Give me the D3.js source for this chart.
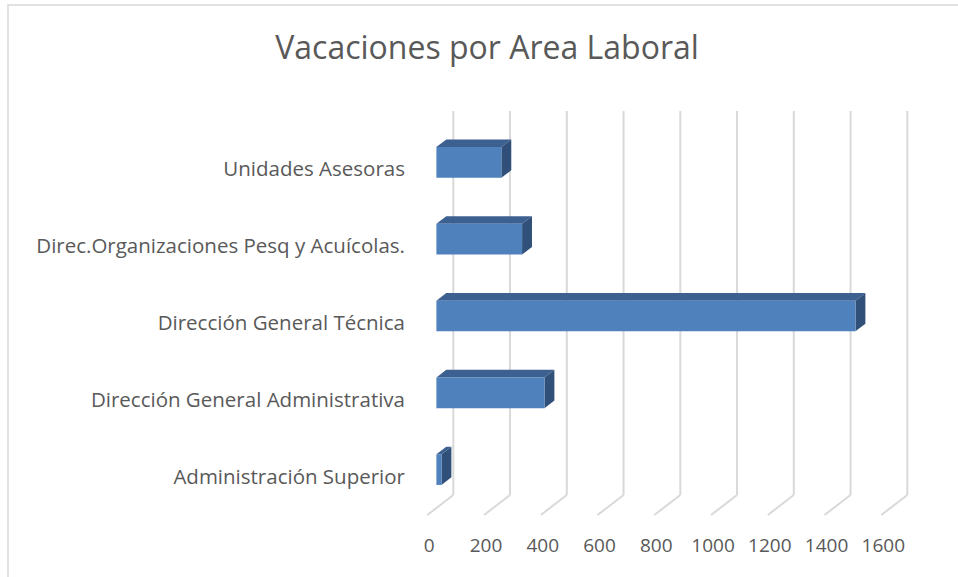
<!DOCTYPE html>
<html>
<head>
<meta charset="utf-8">
<script src="https://cdn.jsdelivr.net/npm/d3@7"></script>
<style>
  body { margin: 0; background: #fff; }
  svg { display: block; }
  text { font-family: "Open Sans", Lato, sans-serif; fill: #595959; }
</style>
</head>
<body>
<svg></svg>
<script>
// chart data
var categories = ["Unidades Asesoras", "Direc.Organizaciones Pesq y Acuícolas.", "Dirección General Técnica",
                  "Dirección General Administrativa", "Administración Superior"];
var values = [229, 302, 1477, 381, 18];
var ticks = [0, 200, 400, 600, 800, 1000, 1200, 1400, 1600];

var width = 958, height = 577;

var svg = d3.select("svg")
    .attr("width", width)
    .attr("height", height);

// outer chart border
svg.append("rect")
    .attr("x", 8).attr("y", 5)
    .attr("width", 960).attr("height", 580)
    .attr("fill", "none")
    .attr("stroke", "#d9d9d9")
    .attr("stroke-width", 1.5);

// title
svg.append("text")
    .attr("x", 487).attr("y", 59)
    .attr("text-anchor", "middle")
    .style("font-size", "32px")
    .text("Vacaciones por Area Laboral");

// scales on the back wall
var x = d3.scaleLinear().domain([0, 1600]).range([453.3, 907.3]);
var y = d3.scaleBand().domain(categories).range([111, 495])
    .paddingInner(0.6).paddingOuter(0.3);

// depth: t = 0 back wall, t = 1 front edge of floor
var depthX = -26, depthY = 20;
function proj(v, yy, t) {
    return [x(v) + depthX * t, yy + depthY * t];
}
var tFront = 0.65, tBack = 0.27;

// gridlines on back wall + floor lines
var grid = svg.append("g");
ticks.forEach(function(t) {
    grid.append("line")
        .attr("x1", x(t)).attr("x2", x(t))
        .attr("y1", 111).attr("y2", 495)
        .attr("stroke", "#d9d9d9").attr("stroke-width", 2);
    var f = proj(t, 495, 1);
    grid.append("line")
        .attr("x1", x(t)).attr("y1", 495)
        .attr("x2", f[0]).attr("y2", f[1])
        .attr("stroke", "#d9d9d9").attr("stroke-width", 2);
});

// tick labels along the front edge
svg.append("g").selectAll("text")
    .data(ticks)
    .enter().append("text")
    .attr("x", function(d) { return proj(d, 495, 1)[0] + 2; })
    .attr("y", 552)
    .attr("text-anchor", "middle")
    .style("font-size", "19px")
    .text(function(d) { return d; });

// category labels
svg.append("g").selectAll("text")
    .data(categories)
    .enter().append("text")
    .attr("x", 405)
    .attr("y", function(d) { return y(d) + y.bandwidth() / 2 + depthY + 7; })
    .attr("text-anchor", "end")
    .style("font-size", "20.5px")
    .text(function(d) { return d; });

// 3D bars
var line = d3.line();
var bars = svg.append("g").selectAll("g")
    .data(categories)
    .enter().append("g");

bars.append("path") // top face
    .attr("fill", "#3c6090")
    .attr("d", function(d, i) {
        var y0 = y(d);
        return line([proj(0, y0, tFront), proj(values[i], y0, tFront),
                     proj(values[i], y0, tBack), proj(0, y0, tBack)]) + "Z";
    });

bars.append("path") // side face
    .attr("fill", "#30507a")
    .attr("d", function(d, i) {
        var y0 = y(d), y1 = y(d) + y.bandwidth();
        return line([proj(values[i], y0, tFront), proj(values[i], y0, tBack),
                     proj(values[i], y1, tBack), proj(values[i], y1, tFront)]) + "Z";
    });

bars.append("path") // front face
    .attr("fill", "#4f81bd")
    .attr("d", function(d, i) {
        var y0 = y(d), y1 = y(d) + y.bandwidth();
        return line([proj(0, y0, tFront), proj(values[i], y0, tFront),
                     proj(values[i], y1, tFront), proj(0, y1, tFront)]) + "Z";
    });
</script>
</body>
</html>
